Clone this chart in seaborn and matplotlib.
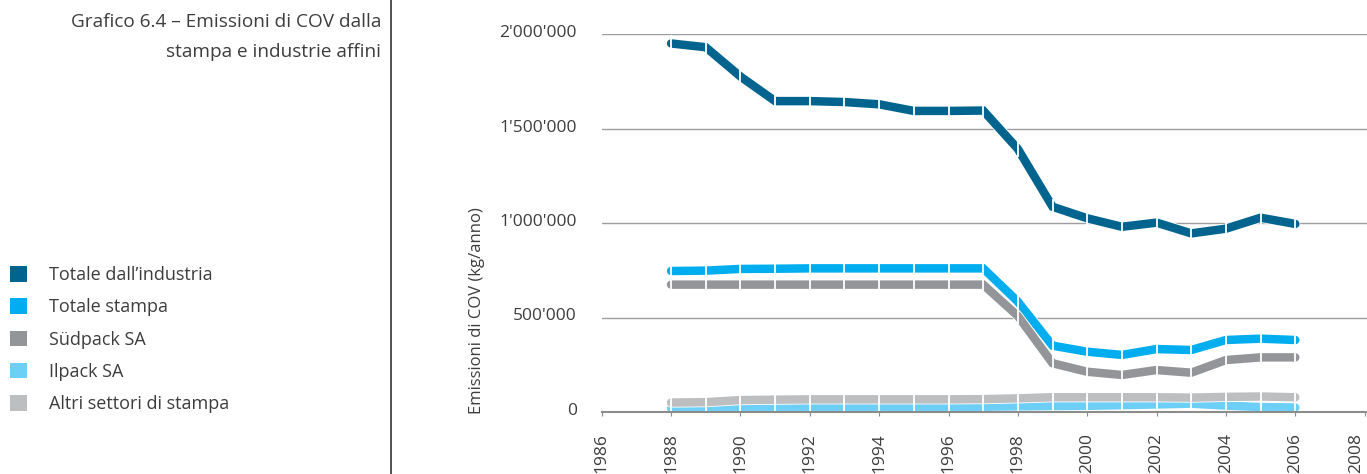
import matplotlib
matplotlib.use("Agg")
import matplotlib.pyplot as plt
import matplotlib.patheffects as pe
from matplotlib.patches import Patch
from matplotlib.lines import Line2D
from matplotlib.ticker import FuncFormatter
from matplotlib.transforms import ScaledTranslation
import numpy as np
import pandas as pd
import seaborn as sns

# ---- data (kg/anno) ----
years = list(range(1988, 2007))
totale_industria = [1950000, 1930000, 1775000, 1645000, 1645000, 1640000, 1628000,
                    1593000, 1593000, 1595000, 1392000, 1086000, 1025000, 980000,
                    1002000, 945000, 970000, 1028000, 995000]
totale_stampa = [746000, 748000, 757000, 758000, 760000, 760000, 760000, 760000,
                 760000, 760000, 584000, 351000, 319000, 302000, 333000, 328000,
                 381000, 388000, 381000]
suedpack = [674000, 674000, 674000, 674000, 674000, 674000, 674000, 674000,
            674000, 674000, 508000, 258000, 213000, 196000, 222000, 208000,
            275000, 289000, 289000]
ilpack = [20000, 22000, 25000, 26000, 28000, 28000, 28000, 28000, 28000, 28000,
          30000, 32000, 33000, 36000, 40000, 44000, 34000, 26000, 24000]
altri = [50000, 52000, 63000, 65000, 67000, 67000, 67000, 67000, 67000, 68000,
         72000, 78000, 78000, 78000, 78000, 76000, 80000, 82000, 78000]

series_names = ["Totale dall\u2019industria", "Totale stampa", "S\u00fcdpack SA",
                "Ilpack SA", "Altri settori di stampa"]
series_values = [totale_industria, totale_stampa, suedpack, ilpack, altri]
colors = ["#00648f", "#00aeef", "#939598", "#6dcff6", "#bcbec0"]

title_lines = ["Grafico 6.4 \u2013 Emissioni di COV dalla",
               "stampa e industrie affini"]
y_label = "Emissioni di COV (kg/anno)"
x_ticks = list(range(1986, 2009, 2))
y_ticks = [0, 500000, 1000000, 1500000, 2000000]

df = pd.concat(
    [pd.DataFrame({"anno": years, "valore": v, "serie": n})
     for n, v in zip(series_names, series_values)],
    ignore_index=True,
)

# ---- figure ----
sns.set_theme(style="white")
plt.rcParams["font.family"] = ["Open Sans", "DejaVu Sans"]
text_color = "#3d3d3d"
tick_fs = 12.5
text_fs = 13

W, H = 1367, 474
fig = plt.figure(figsize=(W / 100, H / 100), dpi=100)
ax_left, ax_right, ax_bottom, ax_top = 601.7, 1367, 412, 34
ax = fig.add_axes([ax_left / W, 1 - ax_bottom / H,
                   (ax_right - ax_left) / W, (ax_bottom - ax_top) / H])

palette = dict(zip(series_names, colors))
sns.lineplot(data=df, x="anno", y="valore", hue="serie", hue_order=series_names,
             palette=palette, linewidth=6.1, errorbar=None, legend=False,
             ax=ax, zorder=3)
for line in ax.get_lines():
    line.set_solid_capstyle("round")
    line.set_solid_joinstyle("miter")
    line.set_path_effects([pe.Stroke(linewidth=7.3, foreground="white"),
                           pe.Normal()])

# thin white cuts at each yearly vertex
sns.lineplot(data=df, x="anno", y="valore", hue="serie", hue_order=series_names,
             palette={n: "white" for n in series_names}, linestyle="none",
             marker="|", markersize=12, markeredgewidth=1.3, mec="white",
             errorbar=None, legend=False, ax=ax, zorder=4)

ax.set_xlim(1986, 1986 + (ax_right - ax_left) / 34.68)
ax.set_ylim(0, 2000000)

ax.grid(axis="y", color="#9d9d9d", linewidth=1.0)
ax.grid(axis="x", visible=False)
for s in ["left", "right", "top"]:
    ax.spines[s].set_visible(False)
ax.spines["bottom"].set_color("#8c8c8c")
ax.spines["bottom"].set_linewidth(1.5)
ax.spines["bottom"].set_zorder(5)
ax.tick_params(axis="x", direction="out", length=3, width=0.8, color="#8c8c8c",
               pad=12, bottom=True)
ax.tick_params(axis="y", length=0, pad=18)

ax.set_xticks(x_ticks)
ax.set_xticklabels([str(t) for t in x_ticks], rotation=90, ha="center",
                   va="top", fontsize=tick_fs, color=text_color)
ax.set_yticks(y_ticks)
ax.yaxis.set_major_formatter(FuncFormatter(lambda v, p: f"{int(v):,}".replace(",", "'")))
for lab in ax.get_yticklabels():
    lab.set_fontsize(tick_fs)
    lab.set_color(text_color)
    lab.set_transform(lab.get_transform() + ScaledTranslation(0, 3 / 100, fig.dpi_scale_trans))
# keep the last year label inside the canvas
last = ax.get_xticklabels()[-1]
last.set_transform(last.get_transform() + ScaledTranslation(-9 / 100, 0, fig.dpi_scale_trans))

ax.set_xlabel("")
ax.set_ylabel(y_label, fontsize=12, color=text_color)
ax.yaxis.set_label_coords((485 - ax_left) / (ax_right - ax_left),
                          (ax_bottom - 311) / (ax_bottom - ax_top))

# ---- left panel: title, separator, legend ----
fig.text(381 / W, 1 - 22 / H, title_lines[0], ha="right", va="center",
         fontsize=13.7, color=text_color)
fig.text(381 / W, 1 - 52 / H, title_lines[1], ha="right", va="center",
         fontsize=13.7, color=text_color)
fig.add_artist(Line2D([391 / W, 391 / W], [0, 1], transform=fig.transFigure,
                      color="#333333", linewidth=1.2))

handles = [Patch(facecolor=c, edgecolor="none") for c in colors]
fig.legend(handles, series_names, loc="upper left",
           bbox_to_anchor=(10 / W, 1 - 266 / H), bbox_transform=fig.transFigure,
           frameon=False, fontsize=text_fs, handlelength=0.94, handleheight=0.94,
           handletextpad=1.22, labelspacing=0.79, borderpad=0, borderaxespad=0,
           labelcolor=text_color)

fig.savefig("out.png", dpi=100, facecolor="white")
